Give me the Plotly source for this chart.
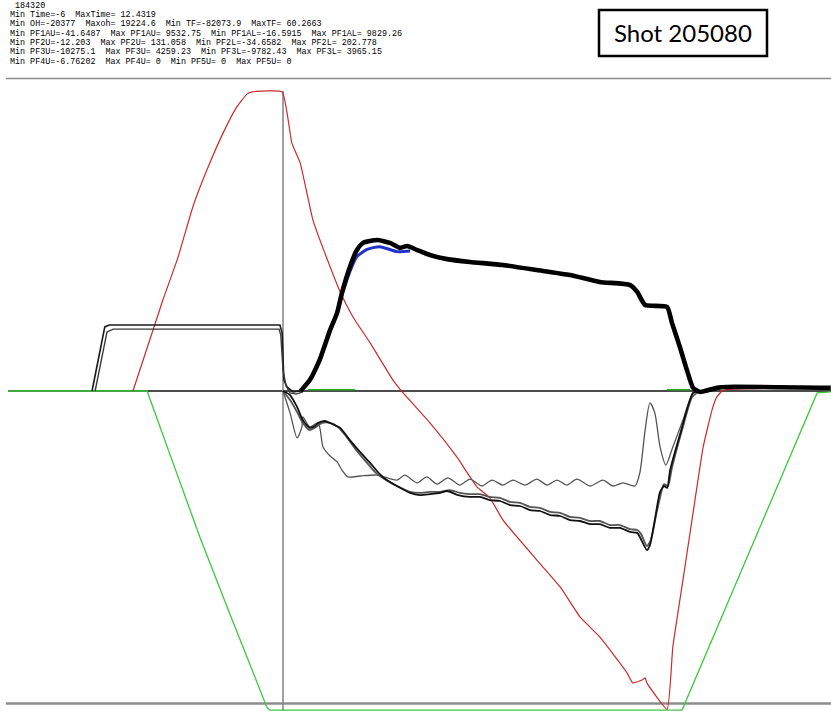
import plotly.graph_objects as go

W, H = 831, 711

# ---------------- header text ----------------
header_lines = [
    " 184320",
    "Min Time=-6  MaxTime= 12.4319",
    "Min OH=-20377  Maxoh= 19224.6  Min TF=-82073.9  MaxTF= 60.2663",
    "Min PF1AU=-41.6487  Max PF1AU= 9532.75  Min PF1AL=-16.5915  Max PF1AL= 9829.26",
    "Min PF2U=-12.203  Max PF2U= 131.058  Min PF2L=-34.6582  Max PF2L= 202.778",
    "Min PF3U=-10275.1  Max PF3U= 4259.23  Min PF3L=-9782.43  Max PF3L= 3965.15",
    "Min PF4U=-6.76202  Max PF4U= 0  Min PF5U= 0  Max PF5U= 0",
]
shot_label = "Shot 205080"

# ---------------- data (time in s, amplitude in % of full scale) ----------------
tf_t = [-3.41, -2.73, -2.39, -2.05, -1.73, -1.36, -1.05, -0.82, -0.70, -0.02, 0.20, 0.39, 0.68, 0.95,
        1.30, 1.59, 1.98, 2.50, 2.73, 3.34, 3.95, 4.41, 4.70, 5.00, 5.77, 6.30, 6.75, 7.20, 7.82, 7.95,
        8.16, 8.23, 8.27, 8.73, 8.86, 9.09, 9.32, 9.55, 9.75, 9.86, 10.00, 12.45]
tf_v = [0.0, 29.1, 42.6, 58.9, 70.7, 82.6, 90.9, 95.0, 95.7, 95.7, 79.4, 73.0, 54.7, 44.2,
        31.7, 23.7, 15.4, 3.5, -0.6, -10.2, -21.1, -30.7, -34.2, -41.3, -54.1, -62.7, -72.3, -78.7, -90.2, -93.4,
        -92.5, -91.8, -93.4, -101.8, -81.9, -60.5, -39.0, -17.9, -6.1, -1.9, 0.2, 0.9]

pfbig_t = [-6.25, -3.09, -2.50, -1.89, -1.27, -0.68, -0.36, -0.30, 9.07, 12.14, 12.45]
pfbig_v = [0.0, 0.0, -23.0, -46.7, -69.1, -90.2, -101.4, -102.1, -102.1, -0.6, -0.3]

pf4_t = [0.57, 1.64, None, 8.73, 9.25]
pf4_v = [0.4, 0.4, None, 0.4, 0.4]

oh1_t = [-4.34, -4.05, -3.95, -0.07, -0.02, 0.00, 0.02, 0.09, 0.23, 0.39]
oh1_v = [0.0, 20.5, 21.1, 21.1, 18.6, 9.9, 3.5, 1.3, -0.3, 0.0]
oh2_t = [-4.27, -4.00, -3.86, -0.09, -0.05, 0.00, 0.07, 0.16, 0.30, 0.45]
oh2_v = [0.0, 18.9, 19.8, 19.8, 17.9, 6.7, 1.6, -0.6, -1.0, -0.3]

ip_t = [0.40, 0.61, 0.73, 0.84, 1.07, 1.23, 1.34, 1.52, 1.68, 1.82, 2.14, 2.43, 2.66, 2.82,
        3.05, 3.34, 3.73, 4.25, 5.00, 5.77, 6.52, 7.20, 7.89, 8.05, 8.23, 8.73, 8.84, 9.02, 9.18,
        9.32, 9.48, 9.86, 10.09, 12.45]
ip_v = [0.0, 3.5, 6.7, 10.2, 19.5, 25.0, 31.4, 39.7, 45.1, 47.4, 48.3, 47.4, 45.8, 46.4,
        45.1, 43.5, 42.2, 41.3, 40.3, 38.7, 37.1, 34.9, 33.9, 31.7, 27.5, 26.9, 21.8, 14.1, 6.7,
        1.0, -0.3, 1.0, 1.3, 1.0]

ipb_t = [1.30, 1.52, 1.68, 1.91, 2.20, 2.59, 2.89]
ipb_v = [29.1, 38.2, 43.0, 45.3, 46.2, 44.6, 44.8]

pfa_t = [0.00, 0.16, 0.32, 0.45, 0.61, 0.73, 0.80, 0.95, 1.14, 1.30, 1.52, 1.75, 1.98, 2.20, 2.36,
         2.59, 2.89, 3.11, 3.34, 3.57, 3.73, 3.98, 4.25, 4.48, 4.70, 4.93, 5.16, 5.39, 5.61, 5.84,
         6.07, 6.30, 6.52, 6.75, 6.98, 7.20, 7.43, 7.66, 7.89, 8.05, 8.11, 8.27, 8.34, 8.45, 8.57,
         8.66, 8.73, 8.80, 9.02, 9.32, 9.48]
pfa_v = [0.0, -1.3, -5.1, -9.3, -11.8, -11.2, -10.2, -9.6, -10.7, -11.8, -15.7, -19.5, -23.0, -26.6, -28.5,
         -30.4, -32.6, -33.3, -33.0, -32.6, -32.0, -33.3, -33.9, -33.9, -34.9, -35.2, -36.5, -36.8, -38.1, -38.4,
         -39.7, -40.0, -41.3, -41.6, -42.6, -42.6, -43.8, -43.8, -45.1, -45.4, -46.7, -50.9, -49.3, -41.3, -32.3,
         -30.4, -31.0, -25.3, -14.1, -0.6, 0.0]

pfb_t = [0.00, 0.16, 0.32, 0.45, 0.61, 0.75, 0.89, 1.07, 1.25, 1.43, 1.66, 1.89, 2.11, 2.34, 2.59,
         2.89, 3.11, 3.34, 3.57, 3.80, 4.02, 4.25, 4.48, 4.70, 4.93, 5.16, 5.39, 5.61, 5.84, 6.07,
         6.30, 6.52, 6.75, 6.98, 7.20, 7.43, 7.66, 7.89, 8.05, 8.14, 8.27, 8.36, 8.48, 8.61, 8.66,
         8.75, 8.84, 9.07, 9.30, 9.48]
pfb_v = [0.0, -2.9, -6.7, -10.2, -12.5, -11.5, -10.2, -10.2, -11.5, -14.4, -18.9, -22.7, -26.2, -28.5, -30.4,
         -32.3, -32.6, -32.3, -32.3, -31.7, -32.6, -33.0, -33.0, -33.9, -34.2, -35.5, -35.8, -37.1, -37.4, -38.7,
         -39.0, -40.3, -40.6, -41.6, -41.6, -42.9, -42.9, -44.2, -44.5, -45.8, -49.6, -47.7, -39.7, -31.7, -29.8,
         -30.4, -24.6, -12.5, -1.9, 0.0]

pfc_t = [0.00, 0.16, 0.32, 0.43, 0.45, 0.61, 0.80, 0.91, 1.07, 1.23, 1.34, 1.48, 1.75, 2.14, 2.59,
         2.77, 3.05, 3.27, 3.50, 3.75, 4.02, 4.25, 4.52, 4.75, 5.00, 5.23, 5.50, 5.77, 6.00, 6.23,
         6.45, 6.68, 6.98, 7.27, 7.50, 7.73, 8.00, 8.11, 8.23, 8.34, 8.45, 8.57, 8.70, 8.86, 9.09,
         9.32, 9.48]
pfc_v = [0.0, -7.0, -15.0, -11.5, -8.3, -11.5, -10.2, -17.9, -20.8, -22.7, -25.3, -27.5, -27.2, -26.9, -28.5,
         -26.9, -29.4, -27.5, -29.8, -27.8, -30.1, -28.2, -30.4, -28.5, -30.1, -28.5, -30.1, -28.2, -30.1, -28.5,
         -30.1, -28.2, -30.4, -28.5, -30.4, -29.4, -30.4, -26.2, -12.5, -3.8, -7.0, -17.9, -23.7, -17.9, -9.3,
         -0.6, 0.0]

T_MIN, T_MAX = -6.432, 12.455
Y_MIN, Y_MAX = -102.4, 125.12

fig = go.Figure()

def add(x, y, color, width, name, smooth=None):
    line = dict(color=color, width=width)
    if smooth:
        line.update(shape="spline", smoothing=smooth)
    fig.add_trace(go.Scatter(x=x, y=y, mode="lines", name=name, line=line,
                             showlegend=False, hoverinfo="skip"))

add(pfbig_t, pfbig_v, "#3cc83c", 1.3, "PF1")
add(tf_t, tf_v, "#cc2a2a", 1.2, "TF", 0.4)
add(oh1_t, oh1_v, "#1a1a1a", 1.6, "OH1")
add(oh2_t, oh2_v, "#3a3a3a", 1.4, "OH2")
add(pfc_t, pfc_v, "#555555", 1.3, "PF3U", 0.7)
add(pfb_t, pfb_v, "#555555", 1.8, "PF2U", 0.6)
add(pfa_t, pfa_v, "#111111", 1.8, "PF2L", 0.6)
add(ipb_t, ipb_v, "#2233cc", 3.0, "Ip2", 0.6)
add(ip_t, ip_v, "#000000", 4.6, "Ip", 0.5)
add(pf4_t, pf4_v, "#22aa22", 1.5, "PF4U")

shapes = [
    dict(type="line", xref="x", yref="y", x0=-6.3, x1=T_MAX, y0=100, y1=100,
         line=dict(color="#8c8c8c", width=1.6), layer="below"),
    dict(type="line", xref="x", yref="y", x0=-6.3, x1=T_MAX, y0=-100, y1=-100,
         line=dict(color="#8c8c8c", width=2.5), layer="below"),
    dict(type="line", xref="x", yref="y", x0=-6.25, x1=T_MAX, y0=0, y1=0,
         line=dict(color="#111111", width=1.5), layer="below"),
    dict(type="line", xref="x", yref="y", x0=0, x1=0, y0=96, y1=Y_MIN,
         line=dict(color="#8a8a8a", width=1.6), layer="below"),
    dict(type="rect", xref="paper", yref="paper",
         x0=599 / W, x1=767 / W, y0=1 - 56 / H, y1=1 - 10 / H,
         line=dict(color="#000000", width=2.5), fillcolor="white"),
]

annotations = []
for i, line in enumerate(header_lines):
    annotations.append(dict(
        x=8 / W, y=1 - (5.7 + 9.3 * i) / H, xref="paper", yref="paper",
        xanchor="left", yanchor="middle", showarrow=False,
        text=line.replace(" ", "\u00a0"),
        font=dict(family="Liberation Mono, DejaVu Sans Mono, monospace", size=8.4, color="#000000"),
    ))
annotations.append(dict(
    x=683 / W, y=1 - 33 / H, xref="paper", yref="paper",
    xanchor="center", yanchor="middle", showarrow=False, text=shot_label,
    font=dict(family="Lato, Open Sans, sans-serif", size=24, color="#000000"),
))

fig.update_layout(
    width=W, height=H, margin=dict(l=0, r=0, t=0, b=0),
    paper_bgcolor="white", plot_bgcolor="white",
    xaxis=dict(range=[T_MIN, T_MAX], visible=False, showgrid=False, zeroline=False, fixedrange=True),
    yaxis=dict(range=[Y_MIN, Y_MAX], visible=False, showgrid=False, zeroline=False, fixedrange=True),
    shapes=shapes, annotations=annotations, showlegend=False,
)

fig.write_html("out.html", config={"displayModeBar": False},
               post_script="document.body.style.margin='0px';document.body.style.overflow='hidden';")
